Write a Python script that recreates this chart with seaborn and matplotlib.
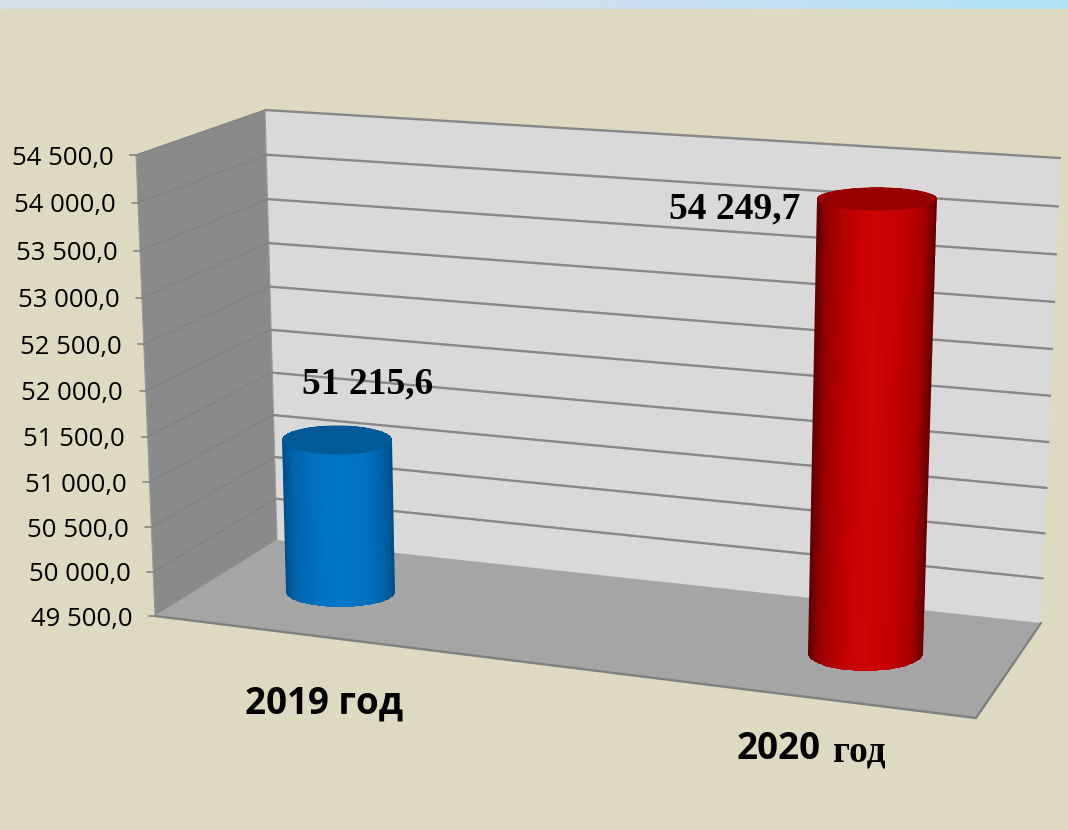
import numpy as np
import matplotlib
matplotlib.use("Agg")
import matplotlib.pyplot as plt
import seaborn as sns
from matplotlib.colors import LinearSegmentedColormap
from matplotlib.path import Path
from matplotlib.patches import Polygon

categories = ["2019 год", "2020 год"]
values = [51215.6, 54249.7]
ticks = [49500, 50000, 50500, 51000, 51500, 52000, 52500, 53000, 53500, 54000, 54500]

W, H = 1068, 830
BG = "#DEDAC1"

sns.set_theme(style="white")
plt.rcParams["font.family"] = ["Open Sans", "DejaVu Sans"]

fig = plt.figure(figsize=(W / 100, H / 100), dpi=100, facecolor=BG)
bg = fig.add_axes([0, 0, 1, 1], zorder=0)
bg.set_xlim(0, W)
bg.set_ylim(H, 0)
bg.axis("off")

# light strip on top of the slide
strip = LinearSegmentedColormap.from_list("strip", ["#D8E0E4", "#D2DFEF", "#B0E2F6"])
bg.imshow(np.linspace(0, 1, 256)[None, :], cmap=strip, extent=[0, W, 9, 0], aspect="auto")
bg.set_xlim(0, W)
bg.set_ylim(H, 0)


# corners of the fake 3d box, t goes 0..1 over the value axis
def front(t):
    return 155 - 19 * t, 616 - 461 * t


def back_l(t):
    return 277 - 12 * t, 540 - 430 * t


def back_r(t):
    return 1041 + 19 * t, 623 - 465 * t


bg.add_patch(Polygon([back_l(0), back_l(1), back_r(1), back_r(0)], fc="#D9D9D9", ec="none"))
bg.add_patch(Polygon([front(0), front(1), back_l(1), back_l(0)], fc="#8A8A8A", ec="#9A9A9A", lw=0.8))
bg.add_patch(Polygon([front(0), back_l(0), back_r(0), (976, 718)], fc="#A5A5A5", ec="none"))
bg.plot([front(0)[0], 976, back_r(0)[0]], [front(0)[1], 718, back_r(0)[1]], color="#808080", lw=1.7)

for v in ticks:
    t = (v - ticks[0]) / (ticks[-1] - ticks[0])
    # perspective: upper gaps are a little larger than lower ones
    t = t + 0.045 * t * (t - 1)
    fx, fy = front(t)
    lx, ly = back_l(t)
    rx, ry = back_r(t)
    if v > ticks[0]:
        bg.plot([lx, rx], [ly, ry], color="#888888", lw=1.7, zorder=2)
        bg.plot([fx, lx], [fy, ly], color="#808080", lw=0.8, zorder=2)
    bg.plot([fx - 6, fx], [fy, fy], color="#868686", lw=1.2, zorder=2)
    label = f"{v:,.1f}".replace(",", " ").replace(".", ",")
    bg.text(fx - 22.5, fy + 3, label, ha="right", va="center", fontsize=18.5, color="black")

bar_colors = ["#0070C0", "#C00000"]
stops = [0, 0.1, 0.3, 0.5, 0.75, 0.9, 1]
shades = [
    ["#004C86", "#0064AC", "#0070C0", "#0076C8", "#0070C0", "#0064AC", "#004E88"],
    ["#5A0000", "#980000", "#C00000", "#D00404", "#C00000", "#A80000", "#660000"],
]
cap_colors = ["#005A96", "#960000"]
# pixel box of each value axis: centre at base, bar width, base y, full axis height
boxes = [(340.5, 109, 592, 443), (865.5, 115, 653, 478)]
leans = [-3.5, 11.5]
top_grow = [1, 5]
cap_half = [14.5, 11.5]
base_half = [15, 18]

for i in range(2):
    cx, bw, base, full = boxes[i]
    aw = bw / 0.8
    ax = fig.add_axes([(cx - aw / 2) / W, 1 - base / H, aw / W, full / H], zorder=1)
    sns.barplot(x=[categories[i]], y=[values[i]], color=bar_colors[i], width=0.8, ax=ax)
    ax.set_ylim(ticks[0], ticks[-1])
    ax.set_xlim(-0.5, 0.5)
    ax.axis("off")
    bar = ax.patches[0]
    bar.set_visible(False)

    # read the bar back in pixels, then lean it a bit like the 3d original
    x0 = bar.get_x()
    (px0, ptop), (px1, pbase) = ax.transData.transform(
        [(x0, bar.get_height()), (x0 + bar.get_width(), ticks[0])]
    )
    ptop, pbase = H - ptop, H - pbase
    w_top = (px1 - px0) + top_grow[i]
    xl_top = (px0 + px1) / 2 + leans[i] - w_top / 2
    xl_bot = px0
    w_bot = px1 - px0

    ang = np.linspace(np.pi, 0, 60)
    bot_x = xl_bot + w_bot / 2 + w_bot / 2 * np.cos(ang)
    bot_y = pbase + base_half[i] * np.sin(ang)
    top_x = xl_top + w_top / 2 + w_top / 2 * np.cos(ang)
    top_y = ptop - cap_half[i] * np.sin(ang)
    outline = np.vstack([np.c_[bot_x, bot_y], np.c_[top_x, top_y][::-1]])

    # shading across the cylinder
    s = np.linspace(0, 1, 121)
    r = np.array([-0.1, 1.1])
    X = np.outer(1 - r, xl_top + s * w_top) + np.outer(r, xl_bot + s * w_bot)
    Y = np.outer(ptop + r * (pbase - ptop), np.ones_like(s))
    cmap = LinearSegmentedColormap.from_list(f"cyl{i}", list(zip(stops, shades[i])))
    C = ((s[:-1] + s[1:]) / 2)[None, :]
    mesh = bg.pcolormesh(X, Y, C, cmap=cmap, vmin=0, vmax=1, shading="flat", zorder=3)
    mesh.set_clip_path(Path(outline), bg.transData)

    cap_a = np.linspace(0, 2 * np.pi, 120)
    cap = np.c_[xl_top + w_top / 2 + w_top / 2 * np.cos(cap_a), ptop + cap_half[i] * np.sin(cap_a)]
    bg.add_patch(Polygon(cap, fc=cap_colors[i], ec="none", zorder=4))

label_xy = [(367.5, 384), (734.5, 209)]
for (lx, ly), v in zip(label_xy, values):
    label = f"{v:,.1f}".replace(",", " ").replace(".", ",")
    bg.text(lx, ly, label, ha="center", va="center", fontsize=27, fontweight="bold",
            family="Liberation Serif", color="black", zorder=5)

bg.text(324, 704, categories[0], ha="center", va="center", fontsize=26.5, fontweight="bold", color="black")
year, word = categories[1].split()
bg.text(737, 749, year, ha="left", va="center", fontsize=26.5, fontweight="bold", color="black")
bg.text(833, 752, word, ha="left", va="center", fontsize=27, fontweight="bold",
        family="Liberation Serif", color="black")

fig.savefig("out.png", dpi=100, facecolor=BG)
